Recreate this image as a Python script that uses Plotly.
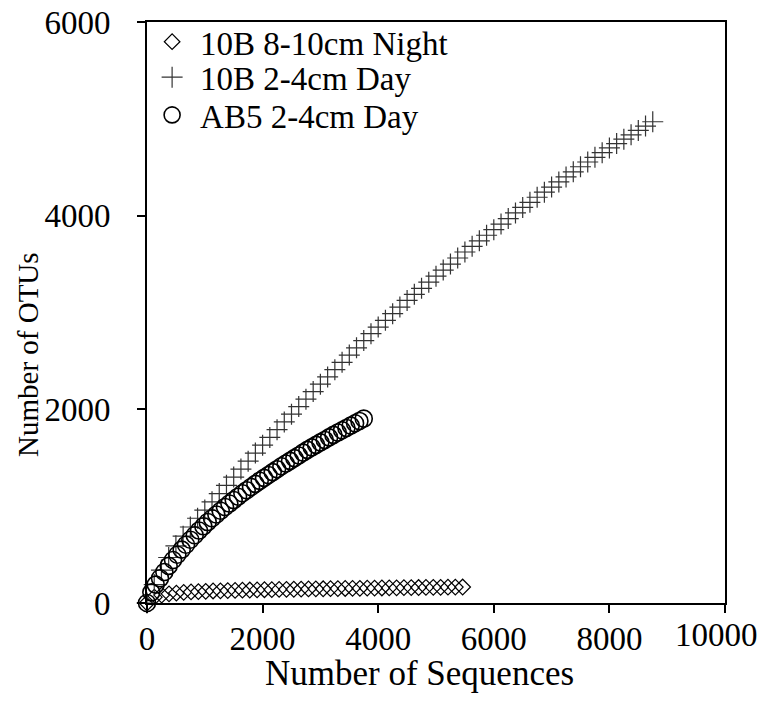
import plotly.graph_objects as go

# ---- data ----
night_x = [0, 127, 254, 381, 508, 635, 762, 889, 1016, 1143, 1270, 1397, 1524, 1651, 1778, 1905,
           2032, 2159, 2286, 2413, 2540, 2667, 2794, 2921, 3048, 3175, 3302, 3429, 3556, 3683,
           3810, 3937, 4064, 4191, 4318, 4445, 4572, 4699, 4826, 4953, 5080, 5207, 5334, 5461]
night_y = [0, 60, 82, 95, 103, 109, 114, 118, 121, 124, 126, 128, 130, 132, 134, 135,
           137, 138, 140, 141, 142, 144, 145, 146, 147, 148, 149, 150, 151, 152,
           153, 154, 155, 156, 157, 158, 159, 160, 161, 162, 162, 163, 164, 165]

day10_x = [0, 125, 250, 375, 500, 625, 750, 875, 1000, 1125, 1250, 1375, 1500, 1625, 1750, 1875,
           2000, 2125, 2250, 2375, 2500, 2625, 2750, 2875, 3000, 3125, 3250, 3375, 3500, 3625,
           3750, 3875, 4000, 4125, 4250, 4375, 4500, 4625, 4750, 4875, 5000, 5125, 5250, 5375,
           5500, 5625, 5750, 5875, 6000, 6125, 6250, 6375, 6500, 6625, 6750, 6875, 7000, 7125,
           7250, 7375, 7500, 7625, 7750, 7875, 8000, 8125, 8250, 8375, 8500, 8625, 8750]
day10_y = [0, 190, 340, 470, 590, 690, 785, 875, 960, 1045, 1130, 1215, 1300, 1383, 1465, 1548,
           1630, 1710, 1790, 1870, 1950, 2028, 2105, 2183, 2260, 2335, 2410, 2485, 2560, 2635,
           2710, 2781, 2850, 2919, 2988, 3056, 3125, 3188, 3250, 3313, 3375, 3438, 3500, 3563,
           3625, 3683, 3740, 3798, 3855, 3913, 3970, 4028, 4085, 4138, 4190, 4243, 4295, 4348,
           4400, 4453, 4505, 4554, 4603, 4651, 4700, 4745, 4790, 4835, 4880, 4925, 4970]

ab5_x = [0, 75, 150, 225, 300, 375, 450, 525, 600, 675, 750, 825, 900, 975, 1050, 1125, 1200,
         1275, 1350, 1425, 1500, 1575, 1650, 1725, 1800, 1875, 1950, 2025, 2100, 2175, 2250,
         2325, 2400, 2475, 2550, 2625, 2700, 2775, 2850, 2925, 3000, 3075, 3150, 3225, 3300,
         3375, 3450, 3525, 3600, 3675, 3750]
ab5_y = [0, 110, 190, 255, 320, 383, 444, 498, 551, 602, 653, 700, 748, 792, 836, 875, 914,
         953, 992, 1027, 1063, 1098, 1133, 1165, 1198, 1230, 1262, 1292, 1322, 1352, 1382,
         1412, 1440, 1468, 1496, 1524, 1553, 1581, 1607, 1633, 1659, 1684, 1710, 1736, 1760,
         1784, 1808, 1832, 1856, 1880, 1904]

x_ticks = [0, 2000, 4000, 6000, 8000, 10000]
x_ticktext = ["0", "2000", "4000", "6000", "8000", ""]
x_last_label = "10000"   # drawn as an annotation at the last tick so it stays inside the page
y_ticks = [0, 2000, 4000, 6000]
y_ticktext = ["0", "2000", "4000", "6000"]

x_title = "Number of Sequences"
y_title = "Number of OTUs"

FONT = "Liberation Serif"

fig = go.Figure()
fig.add_trace(go.Scatter(
    x=night_x, y=night_y, mode="markers", name="10B 8-10cm Night", legend="legend",
    marker=dict(symbol="diamond-open", size=12, color="black", line=dict(width=1.2, color="black")),
    cliponaxis=False))
fig.add_trace(go.Scatter(
    x=day10_x, y=day10_y, mode="markers", name="10B 2-4cm Day", legend="legend2",
    marker=dict(symbol="cross-thin-open", size=15, color="#333", line=dict(width=1.2, color="#333")),
    cliponaxis=False))
fig.add_trace(go.Scatter(
    x=ab5_x, y=ab5_y, mode="markers", name="AB5 2-4cm Day", legend="legend3",
    marker=dict(symbol="circle-open", size=17, color="black", line=dict(width=1.6, color="black")),
    cliponaxis=False))

axis_common = dict(
    showline=True, linewidth=2, linecolor="black", mirror=True,
    ticks="outside", ticklen=8, tickwidth=2, tickcolor="black",
    showgrid=False, zeroline=False, automargin=False,
    tickfont=dict(family=FONT, size=33, color="black"),
)

leg_common = dict(xanchor="left", yanchor="middle", bgcolor="rgba(0,0,0,0)",
                  font=dict(family=FONT, size=33, color="black"), itemwidth=46)

fig.update_layout(
    width=765, height=703,
    margin=dict(l=147, r=40, t=22, b=100),
    paper_bgcolor="white", plot_bgcolor="white",
    font=dict(family=FONT, size=33, color="black"),
    xaxis=dict(range=[0, 10000], tickvals=x_ticks, ticktext=x_ticktext,
               ticklabelstandoff=-3, **axis_common),
    yaxis=dict(range=[0, 6000], tickvals=y_ticks, ticktext=y_ticktext,
               ticklabelstandoff=20, **axis_common),
    legend=dict(x=-0.005, y=0.966, **leg_common),
    legend2=dict(x=-0.005, y=0.905, **leg_common),
    legend3=dict(x=-0.005, y=0.840, **leg_common),
    showlegend=True,
    annotations=[
        dict(text=x_last_label, xref="x", yref="paper", x=x_ticks[-1], y=0,
             xanchor="center", yanchor="top", xshift=-9, yshift=-12, showarrow=False,
             font=dict(family=FONT, size=33, color="black")),
        dict(text=x_title, xref="paper", yref="paper", x=0.4723, y=-0.1205,
             xanchor="center", yanchor="middle", showarrow=False,
             font=dict(family=FONT, size=35, color="black")),
        dict(text=y_title, xref="paper", yref="paper", x=-0.2059, y=0.4286,
             xanchor="center", yanchor="middle", showarrow=False, textangle=-90,
             font=dict(family=FONT, size=29, color="black")),
    ],
)

fig.write_html("out.html")
